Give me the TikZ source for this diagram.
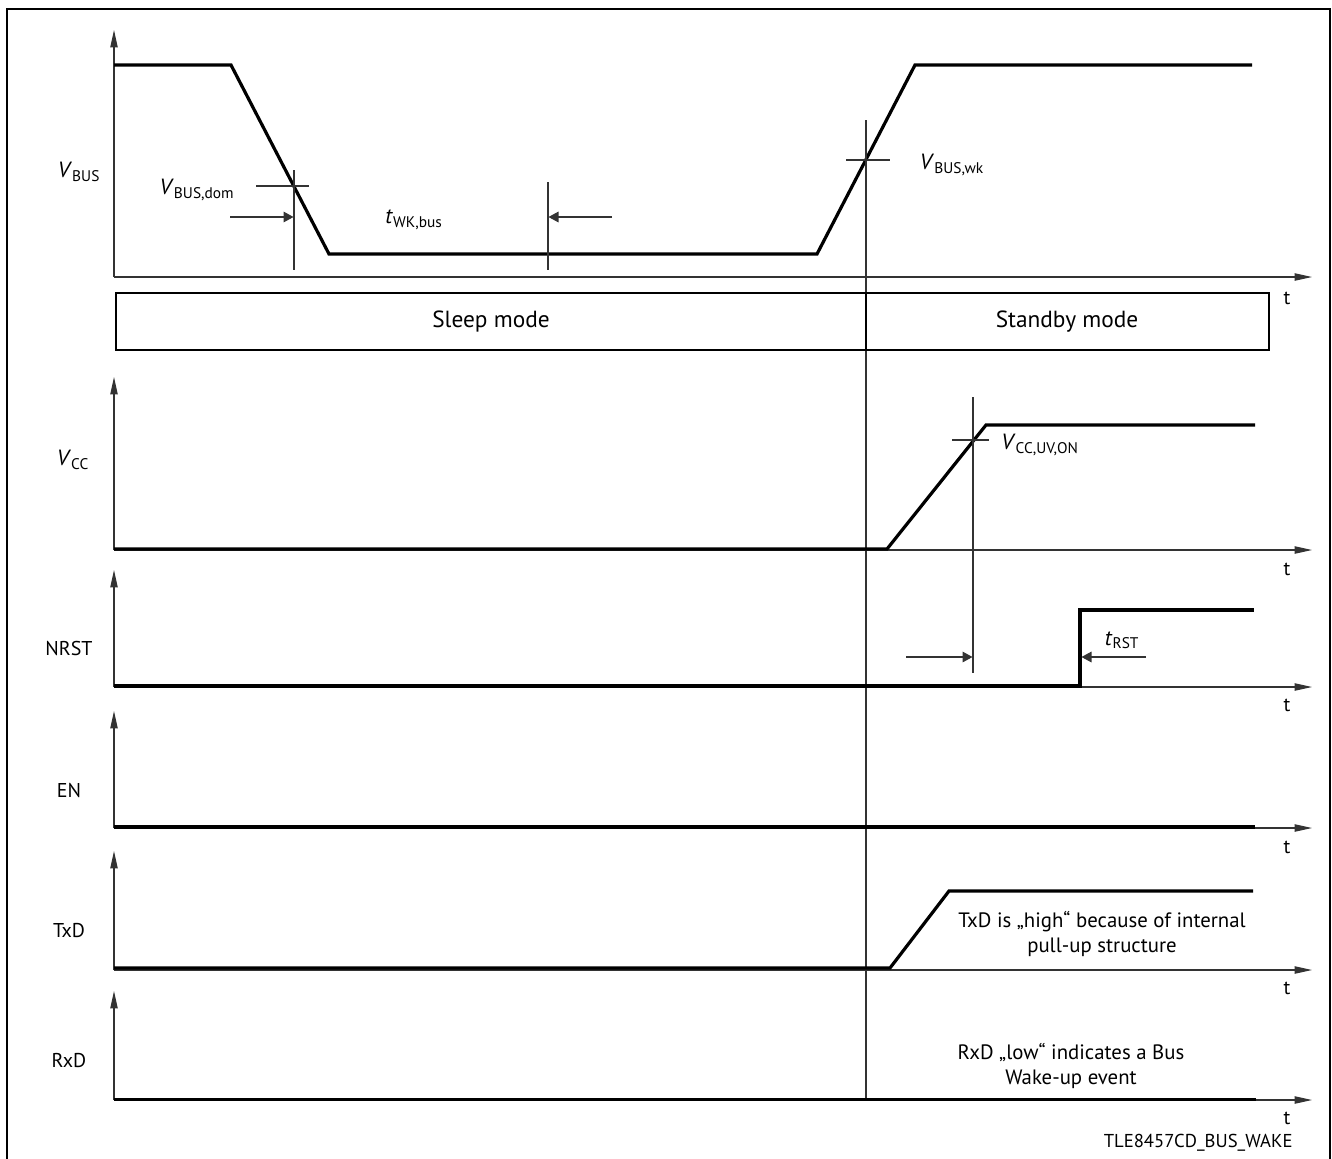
\documentclass[tikz,border=0pt]{standalone}
\usepackage{fontspec}
\setmainfont{PT Sans}
\usetikzlibrary{arrows.meta}

\tikzset{every picture/.style={line width=0.75pt}}
\tikzset{
  sig/.style={line width=2.4pt, line join=miter},
  thin/.style={black!80, line width=0.8pt},
  taxis/.style={thin, -{Triangle[length=13pt, width=5.5pt]}},
  dimarr/.style={thin, -{Triangle[length=7.5pt, width=8pt]}},
  lbl/.style={inner sep=0.75pt, font=\fontsize{15}{18}\selectfont},
  vlbl/.style={lbl, font=\fontsize{16.5}{19}\selectfont},
  mlbl/.style={lbl, font=\fontsize{17.5}{20}\selectfont},
  nlbl/.style={lbl, align=center, font=\fontsize{15.6}{18.5}\selectfont},
  modebox/.style={draw, line width=1.6pt},
}
\newcommand{\sig}[2]{\textit{#1}\textsubscript{#2}}

\begin{document}
\begin{tikzpicture}[x=0.75pt,y=0.75pt,yscale=-1]
\useasboundingbox (0,0) rectangle (1332,1158);

%Frame
\draw[line width=1.1pt] (7,1160) -- (7,9) -- (1330,9) -- (1330,1160);

%Straight Lines: V_BUS axes
\draw[taxis] (114,277) -- (114,30);
\draw[taxis] (114,277) -- (1312,277);
%Straight Lines: V_BUS signal
\draw[sig] (114,65) -- (231,65) -- (329,254) -- (817,254) -- (915,65) -- (1252,65);
%Straight Lines: V_BUS,dom marker
\draw[thin] (294,170) -- (294,270);
\draw[thin] (256,186) -- (309,186);
\draw[dimarr] (230,217) -- (293.5,217);
%Straight Lines: t_WK,bus marker
\draw[thin] (548,182) -- (548,270);
\draw[dimarr] (612,217) -- (548.5,217);
%Straight Lines: V_BUS,wk marker
\draw[thin] (866,120) -- (866,1100);
\draw[thin] (846,160) -- (890,160);

%Shape: Mode boxes
\draw[modebox] (116,293) rectangle (866,350);
\draw[modebox] (866,293) rectangle (1269,350);

%Straight Lines: V_CC axes
\draw[taxis] (114,550) -- (114,377);
\draw[taxis] (114,550) -- (1312,550);
%Straight Lines: V_CC signal
\draw[sig] (114,549) -- (887,549) -- (986,425) -- (1255,425);
%Straight Lines: V_CC,UV,ON marker
\draw[thin] (973,397) -- (973,673);
\draw[thin] (952,440) -- (989,440);

%Straight Lines: NRST axes
\draw[taxis] (114,687) -- (114,570);
\draw[taxis] (114,687) -- (1312,687);
%Straight Lines: NRST signal
\draw[sig] (114,686) -- (1080,686) -- (1080,610) -- (1254,610);
%Straight Lines: t_RST markers
\draw[dimarr] (906,657) -- (972.5,657);
\draw[dimarr] (1146,657) -- (1081.5,657);

%Straight Lines: EN axes
\draw[taxis] (114,828) -- (114,711);
\draw[taxis] (114,828) -- (1312,828);
%Straight Lines: EN signal
\draw[sig] (114,827) -- (1255,827);

%Straight Lines: TxD axes
\draw[taxis] (114,970) -- (114,851);
\draw[taxis] (114,970) -- (1312,970);
%Straight Lines: TxD signal
\draw[sig] (114,968) -- (890,968) -- (949,891) -- (1253,891);

%Straight Lines: RxD axes
\draw[taxis] (114,1100) -- (114,991);
\draw[taxis] (114,1100) -- (1312,1100);
%Straight Lines: RxD signal
\draw[sig] (114,1099.5) -- (1256,1099.5);

% Text Node: signal names
\node[vlbl] (vbus) at (79,172) {\sig{V}{BUS}};
\node[vlbl] (vcc) at (73,460) {\sig{V}{CC}};
\node[lbl] (nrst) at (69,648) {NRST};
\node[lbl] (en) at (69,790) {EN};
\node[lbl] (txd) at (69,930) {TxD};
\node[lbl] (rxd) at (69,1060) {RxD};

% Text Node: thresholds and times
\node[vlbl] (vbusdom) at (197,190) {\sig{V}{BUS,dom}};
\node[vlbl] (twkbus) at (414,220) {\sig{t}{WK,bus}};
\node[vlbl] (vbuswk) at (952,165) {\sig{V}{BUS,wk}};
\node[vlbl] (vccuvon) at (1040,445) {\sig{V}{CC,UV,ON}};
\node[vlbl] (trst) at (1122,640) {\sig{t}{RST}};

% Text Node: modes
\node[mlbl] (sleep) at (491,322) {Sleep mode};
\node[mlbl] (standby) at (1067,322) {Standby mode};

% Text Node: time axis labels
\node[lbl] (t1) at (1287,298) {t};
\node[lbl] (t2) at (1287,569) {t};
\node[lbl] (t3) at (1287,705) {t};
\node[lbl] (t4) at (1287,847) {t};
\node[lbl] (t5) at (1287,988) {t};
\node[lbl] (t6) at (1287,1118) {t};

% Text Node: notes
\node[nlbl] (txdnote) at (1102,934) {TxD is „high“ because of internal\\pull-up structure};
\node[nlbl] (rxdnote) at (1071,1066) {RxD „low“ indicates a Bus\\Wake-up event};
\node[lbl, anchor=east, font=\fontsize{14}{16}\selectfont] (figid) at (1294,1143) {TLE8457CD\_BUS\_WAKE};

\end{tikzpicture}
\end{document}
